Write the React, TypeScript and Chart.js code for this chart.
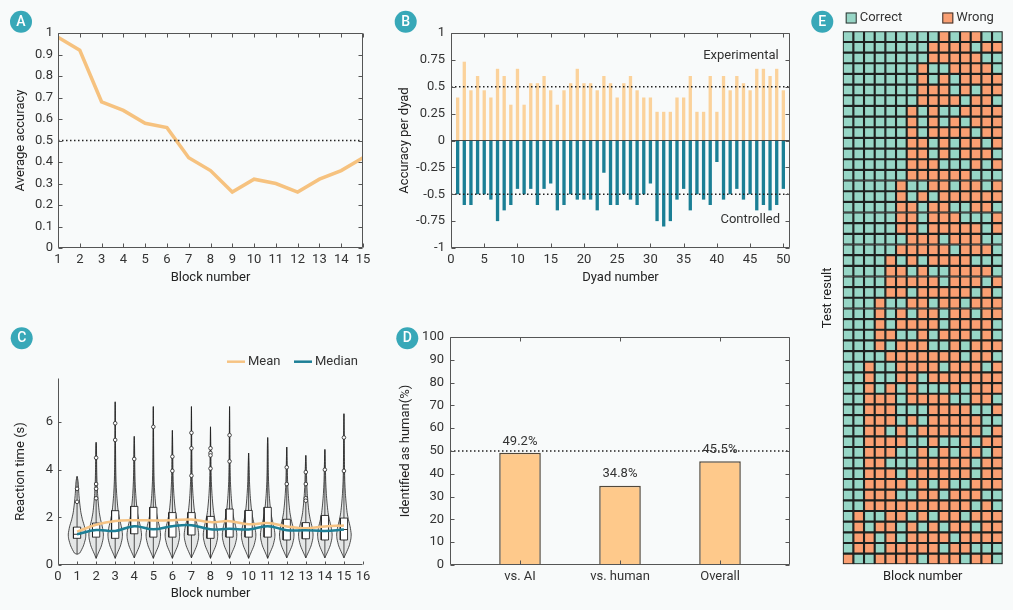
import React, { useEffect, useRef } from 'react';
import { Chart, registerables } from 'chart.js';

Chart.register(...registerables);
Chart.defaults.font.family = 'Roboto, "Noto Sans", sans-serif';
Chart.defaults.font.size = 13;
Chart.defaults.color = '#333333';

// ---------------- data ----------------
// Panel A
const blockNumbers = [1, 2, 3, 4, 5, 6, 7, 8, 9, 10, 11, 12, 13, 14, 15];
const averageAccuracy = [0.98, 0.92, 0.68, 0.64, 0.58, 0.56, 0.42, 0.36, 0.26, 0.32, 0.3, 0.26, 0.32, 0.36, 0.42];
const chanceAccuracy = 0.5;

// Panel B
const dyadNumbers = [
  1, 2, 3, 4, 5, 6, 7, 8, 9, 10, 11, 12, 13, 14, 15, 16, 17, 18, 19, 20, 21, 22, 23, 24, 25,
  26, 27, 28, 29, 30, 31, 32, 33, 34, 35, 36, 37, 38, 39, 40, 41, 42, 43, 44, 45, 46, 47, 48, 49, 50,
];
const experimentalAccuracy = [
  0.4, 0.733, 0.467, 0.6, 0.467, 0.4, 0.667, 0.6, 0.333, 0.667, 0.333, 0.533, 0.533, 0.6, 0.467,
  0.333, 0.467, 0.533, 0.667, 0.533, 0.533, 0.467, 0.6, 0.533, 0.4, 0.533, 0.6, 0.467, 0.4, 0.4,
  0.267, 0.267, 0.267, 0.4, 0.4, 0.6, 0.267, 0.267, 0.6, 0.267, 0.6, 0.467, 0.6, 0.533, 0.467,
  0.667, 0.667, 0.6, 0.667, 0.467,
];
const controlledAccuracy = [
  -0.5, -0.6, -0.6, -0.5, -0.5, -0.55, -0.75, -0.65, -0.6, -0.45, -0.5, -0.45, -0.6, -0.45, -0.4,
  -0.65, -0.6, -0.5, -0.55, -0.55, -0.55, -0.65, -0.3, -0.6, -0.6, -0.5, -0.55, -0.6, -0.5, -0.4,
  -0.75, -0.8, -0.75, -0.55, -0.45, -0.65, -0.5, -0.55, -0.6, -0.2, -0.55, -0.5, -0.45, -0.55, -0.5,
  -0.65, -0.6, -0.65, -0.6, -0.45,
];
const dyadAxisTicks = [-1, -0.75, -0.5, -0.25, 0, 0.25, 0.5, 0.75, 1];

// Panel C (reaction time, s)
const rtMean = [1.4, 1.69, 1.85, 1.88, 1.87, 1.88, 1.91, 1.8, 1.84, 1.71, 1.76, 1.62, 1.54, 1.62, 1.66];
const rtMedian = [1.29, 1.47, 1.43, 1.63, 1.5, 1.63, 1.67, 1.5, 1.52, 1.49, 1.63, 1.46, 1.46, 1.43, 1.49];
const rtQ1 = [1.12, 1.17, 1.12, 1.31, 1.17, 1.17, 1.26, 1.12, 1.17, 1.17, 1.17, 1.05, 1.1, 1.05, 1.05];
const rtQ3 = [1.59, 1.76, 2.28, 2.46, 2.42, 2.2, 2.2, 2.04, 2.35, 2.29, 2.42, 1.92, 1.78, 2.08, 1.97];
const rtMin = [0.45, 0.28, 0.28, 0.3, 0.28, 0.28, 0.3, 0.28, 0.28, 0.28, 0.28, 0.3, 0.3, 0.3, 0.3];
const rtMax = [3.72, 5.15, 6.85, 5.4, 6.65, 5.65, 6.65, 5.8, 6.65, 4.7, 5.35, 4.95, 4.6, 4.85, 6.35];
const violinLevels = [0.5, 0.8, 1.1, 1.3, 1.6, 1.9, 2.2, 2.6, 3.0, 3.5, 4.0, 5.0, 6.0];
const violinProfile = [0.3, 0.72, 0.96, 1.0, 0.86, 0.62, 0.44, 0.3, 0.2, 0.12, 0.08, 0.045, 0.025];
const violinPeakHalfWidth = [0.46, 0.38, 0.38, 0.38, 0.38, 0.38, 0.38, 0.38, 0.38, 0.38, 0.38, 0.38, 0.38, 0.38, 0.38];
const outlierBlock = [1, 1, 2, 2, 2, 2, 3, 3, 4, 5, 6, 6, 7, 7, 7, 8, 8, 8, 8, 9, 9, 12, 12, 13, 13, 13, 13, 14, 15, 15];
const outlierRT = [
  3.2, 2.65, 4.5, 3.4, 3.2, 2.8, 5.95, 5.25, 4.45, 5.8, 4.55, 3.95, 5.55, 4.9, 3.75,
  4.9, 4.7, 4.6, 4.05, 5.45, 4.35, 4.1, 3.4, 3.9, 3.4, 2.8, 2.7, 4.0, 5.35, 3.95,
];

// Panel D
const identCategories = ['vs. AI', 'vs. human', 'Overall'];
const identPositions = [1, 2, 3];
const identValues = [49.2, 34.8, 45.5];
const identChance = 50;

// Panel E (one string per dyad, one letter per block: C = correct, W = wrong)
const testResultRows = [
  'CCCCCCCCCWCWWCC', 'CCCCCCCCWWWWCWW', 'CCCCCCCCWWWWWCC', 'CCCCCCCWCCWWWWC', 'CCCCCCCWCWCWWWW',
  'CCCCCCCWWWCWCWW', 'CCCCCCCWWWWCWWC', 'CCCCCCWCWCCWWWW', 'CCCCCCWCWCWCWWW', 'CCCCCCWCWWWWCWW',
  'CCCCCCWWCWCWWCW', 'CCCCCCWWCWCWWWC', 'CCCCCCWWWCCCWCW', 'CCCCCCWWWWWWCCC', 'CCCCCWCCWWCWWCW',
  'CCCCCWCWCWWWWWW', 'CCCCCWWCWWCCWWC', 'CCCCCWWCWWWCCCW', 'CCCCCWWCWWWWWCW', 'CCCCCCWWWCWWWCC',
  'CCCCCWWWWWCWWWC', 'CCCCWCWCWWWWCCC', 'CCCCWWCWCCWWWWC', 'CCCCWWWWWCWWWCW', 'CCCCWWCWWWWWCWC',
  'CCCWCCWWCWWCWWW', 'CCCWCWCWWCWWCWW', 'CCCWCWWWWCWWWWC', 'CCCWWCCWCWWWCWC', 'CCCWCWWWCCWCWWW',
  'CCCCWWWWWWWCWWC', 'CCWCCWWWWCWWWCW', 'CCWCCWWCWWWWWWW', 'CCWCWCWCCCWCWWW', 'CCWWWCWWWWCCWWC',
  'CCWWWCCCWWWWCCW', 'CCWWWCWCWWWWWCC', 'CCWWCWCWWWWWWCW', 'CCWWWWCCWCCWCWW', 'CCWWWCCWCWCWWCW',
  'CCWWCCCWWWWWCWW', 'CCWWWCWWWWWWCWW', 'CCWWWWCWCWCCWWW', 'CCWWWCCWWCWWWCC', 'CCWWWWWWWWWWCWC',
  'CWCCWWCWCWWCWWW', 'CWCWWCWCWCWWCWW', 'CWWCWCWWWWCWWWW', 'CWWCWWWWWCWWCCC', 'WCCWWWWCWWWCWWC',
];

// ---------------- style ----------------
const TICK_COLOR = '#333333';
const TITLE_COLOR = '#222222';
const FRAME_COLOR = '#555555';
const LABEL_CIRCLE = '#38a8b8';
const ORANGE_LINE = '#f6c27f';
const EXP_COLOR = '#fbd29b';
const CTRL_COLOR = '#1b7f95';
const MEAN_COLOR = '#f6c383';
const MEDIAN_COLOR = '#1d7f96';
const BAR_D_FILL = '#fec98b';
const BAR_D_BORDER = '#51483b';
const CELL_TEAL = '#97d6c6';
const CELL_ORANGE = '#fa9f72';
const CELL_GRID = '#1d201f';

const fmt = (v: any) => String(Number(Number(v).toFixed(2)));

// ---------------- plugins ----------------
const framePlugin = {
  id: 'frame',
  afterDatasetsDraw(chart: any, _a: any, opts: any) {
    if (!opts || !opts.mode) return;
    const { ctx, chartArea: a } = chart;
    const xs = chart.scales.x;
    const ys = chart.scales.y;
    const L = opts.tickLength ?? 4;
    const box = opts.mode === 'box';
    const l = Math.round(a.left) + 0.5;
    const r = Math.round(a.right) - 0.5;
    const t = Math.round(a.top) + 0.5;
    const b = Math.round(a.bottom) - 0.5;
    ctx.save();
    ctx.strokeStyle = FRAME_COLOR;
    ctx.lineWidth = 1;
    ctx.beginPath();
    if (box) {
      ctx.rect(l, t, r - l, b - t);
    } else {
      ctx.moveTo(l, t);
      ctx.lineTo(l, b);
      ctx.lineTo(r, b);
    }
    for (const tk of xs.ticks) {
      const x = Math.round(xs.getPixelForValue(tk.value)) + 0.5;
      ctx.moveTo(x, b);
      ctx.lineTo(x, b - L);
      if (box) {
        ctx.moveTo(x, t);
        ctx.lineTo(x, t + L);
      }
    }
    for (const tk of ys.ticks) {
      const y = Math.round(ys.getPixelForValue(tk.value)) + 0.5;
      ctx.moveTo(l, y);
      ctx.lineTo(l + L, y);
      if (box) {
        ctx.moveTo(r, y);
        ctx.lineTo(r - L, y);
      }
    }
    ctx.stroke();
    ctx.restore();
  },
};

const panelLabelPlugin = {
  id: 'panelLabel',
  afterDraw(chart: any, _a: any, opts: any) {
    if (!opts || !opts.text) return;
    const { ctx } = chart;
    ctx.save();
    ctx.fillStyle = LABEL_CIRCLE;
    ctx.beginPath();
    ctx.arc(opts.x, opts.y, 11, 0, Math.PI * 2);
    ctx.fill();
    ctx.fillStyle = '#ffffff';
    ctx.font = '500 14px Roboto';
    ctx.textAlign = 'center';
    ctx.textBaseline = 'middle';
    ctx.fillText(opts.text, opts.x, opts.y + 0.5);
    ctx.restore();
  },
};

const noteTextPlugin = {
  id: 'noteText',
  afterDatasetsDraw(chart: any, _a: any, opts: any) {
    if (!opts || !opts.items) return;
    const { ctx } = chart;
    const xs = chart.scales.x;
    const ys = chart.scales.y;
    ctx.save();
    ctx.font = '13px Roboto';
    ctx.fillStyle = TICK_COLOR;
    ctx.textBaseline = 'middle';
    for (const it of opts.items) {
      ctx.textAlign = it.align || 'center';
      ctx.fillText(it.text, xs.getPixelForValue(it.x), ys.getPixelForValue(it.y));
    }
    ctx.restore();
  },
};

const barValuePlugin = {
  id: 'barValue',
  afterDatasetsDraw(chart: any, _a: any, opts: any) {
    if (!opts || opts.datasetIndex === undefined) return;
    const { ctx } = chart;
    const meta = chart.getDatasetMeta(opts.datasetIndex);
    const ds = chart.data.datasets[opts.datasetIndex];
    ctx.save();
    ctx.font = '13px Roboto';
    ctx.fillStyle = TICK_COLOR;
    ctx.textAlign = 'center';
    ctx.textBaseline = 'middle';
    meta.data.forEach((el: any, i: number) => {
      ctx.fillText(ds.data[i].y.toFixed(1) + '%', el.x, el.y - opts.offset);
    });
    ctx.restore();
  },
};

const fixedLegendPlugin = {
  id: 'fixedLegend',
  afterDraw(chart: any, _a: any, opts: any) {
    if (!opts || !opts.items) return;
    const { ctx } = chart;
    ctx.save();
    ctx.font = '13px Roboto';
    ctx.textAlign = 'left';
    ctx.textBaseline = 'middle';
    for (const it of opts.items) {
      let tx = it.x;
      if (it.kind === 'line') {
        ctx.strokeStyle = it.color;
        ctx.lineWidth = 2.5;
        ctx.beginPath();
        ctx.moveTo(it.x, it.y);
        ctx.lineTo(it.x + it.len, it.y);
        ctx.stroke();
        tx = it.x + it.len + 3;
      } else {
        ctx.fillStyle = it.color;
        ctx.fillRect(it.x, it.y - it.len / 2, it.len, it.len);
        ctx.strokeStyle = '#333333';
        ctx.lineWidth = 1;
        ctx.strokeRect(it.x + 0.5, it.y - it.len / 2 + 0.5, it.len - 1, it.len - 1);
        tx = it.x + it.len + 3;
      }
      ctx.fillStyle = TICK_COLOR;
      ctx.fillText(it.text, tx, it.y);
    }
    ctx.restore();
  },
};

const allPlugins = [framePlugin, panelLabelPlugin, noteTextPlugin, barValuePlugin, fixedLegendPlugin];

// ---------------- helpers ----------------
const noGrid = { display: false, drawTicks: false };
const noBorder = { display: false };
const tickFont = { size: 13 };

function xAxis(extra: any, height: number, title?: string, titleBottom = 14) {
  return {
    offset: false,
    grid: noGrid,
    border: noBorder,
    ticks: { padding: 4, color: TICK_COLOR, font: tickFont, maxRotation: 0, autoSkip: false, ...(extra.ticks || {}) },
    title: title
      ? { display: true, text: title, color: TITLE_COLOR, font: { size: 13 }, padding: { top: 0, bottom: titleBottom } }
      : { display: false },
    afterFit: (s: any) => {
      s.height = height;
    },
    ...extra,
    ...(extra.ticks ? { ticks: { padding: 4, color: TICK_COLOR, font: tickFont, maxRotation: 0, autoSkip: false, ...extra.ticks } } : {}),
  };
}

function yAxis(extra: any, width: number, title: string, titleTop: number, tickPad: number) {
  return {
    grid: noGrid,
    border: noBorder,
    title: { display: true, text: title, color: TITLE_COLOR, font: { size: 13 }, padding: { top: titleTop, bottom: 0 } },
    afterFit: (s: any) => {
      s.width = width;
    },
    ...extra,
    ticks: { padding: tickPad, color: TICK_COLOR, font: tickFont, autoSkip: false, ...(extra.ticks || {}) },
  };
}

const dotted = (x0: number, x1: number, y: number) => ({
  type: 'line',
  data: [
    { x: x0, y },
    { x: x1, y },
  ],
  borderColor: '#222222',
  borderWidth: 1.3,
  borderDash: [1.5, 2.5],
  pointRadius: 0,
  fill: false,
});

const baseOptions = (padding: any) => ({
  responsive: false,
  animation: false,
  events: [],
  layout: { padding },
});

// ---------------- chart configs ----------------
function configA(): any {
  return {
    type: 'line',
    data: {
      datasets: [
        dotted(1, 15, chanceAccuracy),
        {
          data: blockNumbers.map((b, i) => ({ x: b, y: averageAccuracy[i] })),
          borderColor: ORANGE_LINE,
          borderWidth: 3.5,
          pointRadius: 0,
          tension: 0,
        },
      ],
    },
    options: {
      ...baseOptions({ left: 0, top: 33, right: 27, bottom: 0 }),
      plugins: {
        legend: { display: false },
        tooltip: { enabled: false },
        frame: { mode: 'box' },
        panelLabel: { text: 'A', x: 21, y: 21.7 },
      },
      scales: {
        x: xAxis({ type: 'linear', min: 1, max: 15, ticks: { stepSize: 1 } }, 52, 'Block number', 14),
        y: yAxis({ type: 'linear', min: 0, max: 1, ticks: { stepSize: 0.1, callback: fmt } }, 58, 'Average accuracy', 13, 5),
      },
    },
  };
}

function configB(): any {
  return {
    type: 'bar',
    data: {
      datasets: [
        {
          type: 'line',
          data: [
            { x: 0, y: 0 },
            { x: 51, y: 0 },
          ],
          borderColor: '#444444',
          borderWidth: 1,
          pointRadius: 0,
        },
        dotted(0, 51, 0.5),
        dotted(0, 51, -0.5),
        {
          type: 'bar',
          data: dyadNumbers.map((d, i) => ({ x: d, y: experimentalAccuracy[i] })),
          backgroundColor: EXP_COLOR,
          grouped: false,
          categoryPercentage: 1,
          barPercentage: 0.5,
        },
        {
          type: 'bar',
          data: dyadNumbers.map((d, i) => ({ x: d, y: controlledAccuracy[i] })),
          backgroundColor: CTRL_COLOR,
          grouped: false,
          categoryPercentage: 1,
          barPercentage: 0.5,
        },
      ],
    },
    options: {
      ...baseOptions({ left: 0, top: 33, right: 10, bottom: 0 }),
      plugins: {
        legend: { display: false },
        tooltip: { enabled: false },
        frame: { mode: 'box' },
        panelLabel: { text: 'B', x: 15.7, y: 21.7 },
        noteText: {
          items: [
            { text: 'Experimental', x: 49.3, y: 0.79, align: 'right' },
            { text: 'Controlled', x: 49.5, y: -0.74, align: 'right' },
          ],
        },
      },
      scales: {
        x: xAxis({ type: 'linear', min: 0, max: 51, ticks: { stepSize: 5, includeBounds: false } }, 52, 'Dyad number', 14),
        y: yAxis(
          {
            type: 'linear',
            min: -1,
            max: 1,
            afterBuildTicks: (s: any) => {
              s.ticks = dyadAxisTicks.map((v) => ({ value: v }));
            },
            ticks: { callback: fmt },
          },
          61,
          'Accuracy per dyad',
          7,
          6
        ),
      },
    },
  };
}

function configC(): any {
  const violins = blockNumbers.map((b, i) => {
    const peak = violinPeakHalfWidth[i];
    const pts = [
      { y: rtMin[i], w: 0 },
      ...violinLevels
        .map((y, k) => ({ y, w: violinProfile[k] * peak }))
        .filter((p) => p.y > rtMin[i] && p.y < rtMax[i]),
      { y: rtMax[i], w: 0 },
    ];
    const right = pts.map((p) => ({ x: b + p.w, y: p.y }));
    const left = pts
      .slice(1, -1)
      .reverse()
      .map((p) => ({ x: b - p.w, y: p.y }));
    return {
      data: [...right, ...left, { x: b, y: rtMin[i] }],
      showLine: true,
      borderColor: '#222222',
      borderWidth: 0.8,
      backgroundColor: 'rgba(60,60,60,0.10)',
      fill: 'shape',
      pointRadius: 0,
      tension: 0.2,
    };
  });
  const boxes = blockNumbers.map((b, i) => ({
    data: [
      { x: b - 0.19, y: rtQ1[i] },
      { x: b + 0.19, y: rtQ1[i] },
      { x: b + 0.19, y: rtQ3[i] },
      { x: b - 0.19, y: rtQ3[i] },
      { x: b - 0.19, y: rtQ1[i] },
    ],
    showLine: true,
    borderColor: '#222222',
    borderWidth: 0.9,
    backgroundColor: '#ffffff',
    fill: 'shape',
    pointRadius: 0,
    tension: 0,
  }));
  const whiskers = {
    data: blockNumbers.flatMap((b, i) => [
      { x: b, y: rtMin[i] },
      { x: b, y: rtMax[i] },
      { x: b, y: null },
    ]),
    showLine: true,
    spanGaps: false,
    borderColor: '#222222',
    borderWidth: 0.8,
    pointRadius: 0,
  };
  const medianMarks = {
    data: blockNumbers.flatMap((b, i) => [
      { x: b - 0.19, y: rtMedian[i] },
      { x: b + 0.19, y: rtMedian[i] },
      { x: b, y: null },
    ]),
    showLine: true,
    spanGaps: false,
    borderColor: '#222222',
    borderWidth: 0.9,
    pointRadius: 0,
  };
  const outliers = {
    data: outlierBlock.map((b, k) => ({ x: b, y: outlierRT[k] })),
    showLine: false,
    pointRadius: 1.8,
    pointBackgroundColor: '#ffffff',
    pointBorderColor: '#222222',
    pointBorderWidth: 0.8,
  };
  const meanLine = {
    label: 'Mean',
    data: blockNumbers.map((b, i) => ({ x: b, y: rtMean[i] })),
    showLine: true,
    borderColor: MEAN_COLOR,
    borderWidth: 2.5,
    pointRadius: 0,
    tension: 0.4,
  };
  const medianLine = {
    label: 'Median',
    data: blockNumbers.map((b, i) => ({ x: b, y: rtMedian[i] })),
    showLine: true,
    borderColor: MEDIAN_COLOR,
    borderWidth: 2.5,
    pointRadius: 0,
    tension: 0.4,
  };
  return {
    type: 'scatter',
    data: {
      datasets: [medianLine, meanLine, outliers, medianMarks, ...boxes, whiskers, ...violins],
    },
    options: {
      ...baseOptions({ left: 0, top: 73, right: 27, bottom: 0 }),
      plugins: {
        legend: { display: false },
        tooltip: { enabled: false },
        frame: { mode: 'axes', tickLength: 3 },
        panelLabel: { text: 'C', x: 21.7, y: 33.3 },
        fixedLegend: {
          items: [
            { kind: 'line', text: 'Mean', color: MEAN_COLOR, x: 227, y: 56.7, len: 18 },
            { kind: 'line', text: 'Median', color: MEDIAN_COLOR, x: 294, y: 56.7, len: 18 },
          ],
        },
      },
      scales: {
        x: xAxis({ type: 'linear', min: 0, max: 16, ticks: { stepSize: 1 } }, 45, 'Block number', 8),
        y: yAxis({ type: 'linear', min: 0, max: 7.85, ticks: { stepSize: 2, includeBounds: false } }, 58, 'Reaction time (s)', 13, 5),
      },
    },
  };
}

function configD(): any {
  return {
    type: 'bar',
    data: {
      datasets: [
        dotted(0.3, 3.7, identChance),
        {
          type: 'bar',
          data: identPositions.map((p, i) => ({ x: p, y: identValues[i] })),
          backgroundColor: BAR_D_FILL,
          borderColor: BAR_D_BORDER,
          borderWidth: 1.5,
          categoryPercentage: 0.8,
          barPercentage: 0.52,
        },
      ],
    },
    options: {
      ...baseOptions({ left: 0, top: 32, right: 10, bottom: 0 }),
      plugins: {
        legend: { display: false },
        tooltip: { enabled: false },
        frame: { mode: 'box' },
        panelLabel: { text: 'D', x: 17.3, y: 33.3 },
        barValue: { datasetIndex: 1, offset: 11.5 },
      },
      scales: {
        x: xAxis(
          {
            type: 'linear',
            min: 0.3,
            max: 3.7,
            afterBuildTicks: (s: any) => {
              s.ticks = identPositions.map((v) => ({ value: v }));
            },
            ticks: { callback: (v: any) => identCategories[identPositions.indexOf(Number(v))] ?? '' },
          },
          45
        ),
        y: yAxis({ type: 'linear', min: 0, max: 100, ticks: { stepSize: 10 } }, 60, 'Identified as human(%)', 8, 6),
      },
    },
  };
}

function configE(): any {
  return {
    type: 'bar',
    data: {
      labels: blockNumbers.map(String),
      datasets: testResultRows.map((row) => ({
        data: row.split('').map(() => 1),
        backgroundColor: row.split('').map((c) => (c === 'C' ? CELL_TEAL : CELL_ORANGE)),
        borderColor: CELL_GRID,
        borderWidth: 1.4,
        borderSkipped: false,
        categoryPercentage: 1,
        barPercentage: 1,
      })),
    },
    options: {
      ...baseOptions({ left: 0, top: 31.3, right: 10.3, bottom: 0 }),
      plugins: {
        legend: { display: false },
        tooltip: { enabled: false },
        panelLabel: { text: 'E', x: 22.3, y: 21.7 },
        fixedLegend: {
          items: [
            { kind: 'box', text: 'Correct', color: CELL_TEAL, x: 45.7, y: 18, len: 11 },
            { kind: 'box', text: 'Wrong', color: CELL_ORANGE, x: 142.3, y: 18, len: 11 },
          ],
        },
      },
      scales: {
        x: {
          stacked: true,
          grid: noGrid,
          border: noBorder,
          ticks: { display: false },
          title: { display: true, text: 'Block number', color: TITLE_COLOR, font: { size: 13 }, padding: { top: 0, bottom: 25 } },
          afterFit: (s: any) => {
            s.height = 45.7;
          },
        },
        y: {
          stacked: true,
          min: 0,
          max: testResultRows.length,
          reverse: true,
          grid: noGrid,
          border: noBorder,
          ticks: { display: false },
          title: { display: true, text: 'Test result', color: TITLE_COLOR, font: { size: 13 }, padding: { top: 20, bottom: 0 } },
          afterFit: (s: any) => {
            s.width = 42.7;
          },
        },
      },
    },
  };
}

// ---------------- components ----------------
function Panel(props: { left: number; top: number; width: number; height: number; make: () => any }) {
  const ref = useRef<HTMLCanvasElement | null>(null);
  useEffect(() => {
    if (!ref.current) return;
    const cfg = props.make();
    cfg.plugins = allPlugins;
    const chart = new Chart(ref.current, cfg);
    return () => chart.destroy();
  }, []);
  return (
    <canvas
      ref={ref}
      width={props.width}
      height={props.height}
      style={{ position: 'absolute', left: props.left, top: props.top, width: props.width, height: props.height }}
    />
  );
}

export default function App() {
  return (
    <div
      style={{
        position: 'absolute',
        left: 0,
        top: 0,
        width: 1013,
        height: 610,
        overflow: 'hidden',
        background: '#f8fafa',
      }}
    >
      <Panel left={0} top={0} width={390} height={300} make={configA} />
      <Panel left={390} top={0} width={410} height={300} make={configB} />
      <Panel left={0} top={305} width={390} height={305} make={configC} />
      <Panel left={390} top={305} width={410} height={305} make={configD} />
      <Panel left={800} top={0} width={213} height={610} make={configE} />
    </div>
  );
}
